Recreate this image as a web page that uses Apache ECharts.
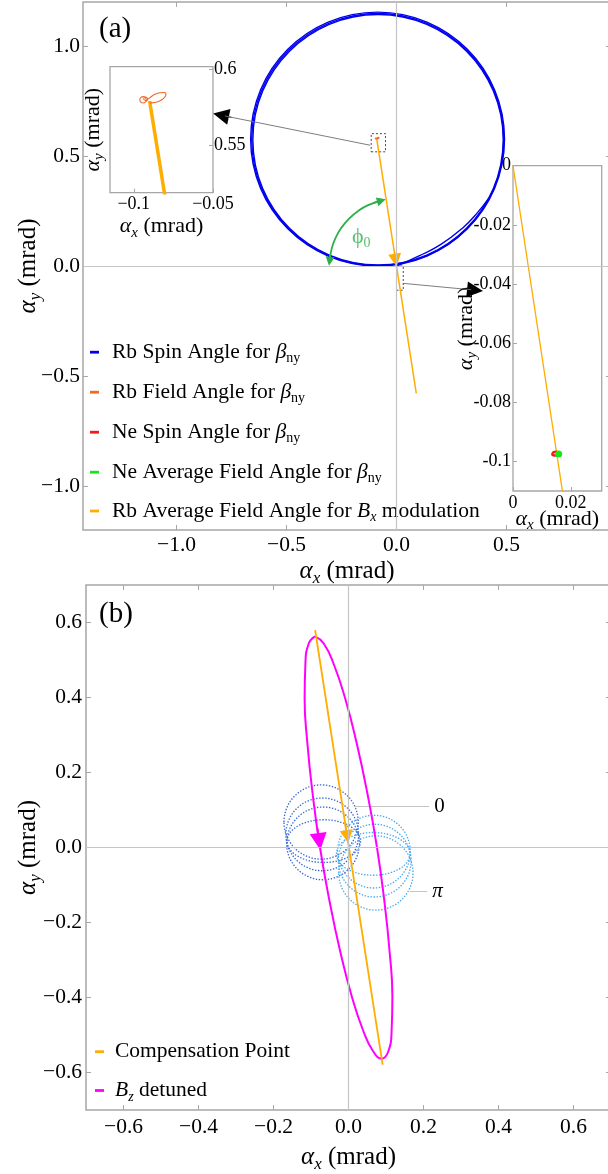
<!DOCTYPE html>
<html><head><meta charset="utf-8">
<script src="https://cdn.jsdelivr.net/npm/echarts@6/dist/echarts.min.js"></script>
<style>html,body{margin:0;padding:0;background:#fff}#c{width:608px;height:1174px}</style>
</head><body><div id="c"></div>
<script>
// ================= DATA (all values in mrad) =================
// tick labels
const aXTicks = [-1.0, -0.5, 0.0, 0.5];
const aYTicks = [-1.0, -0.5, 0.0, 0.5, 1.0];
const bTicks = [-0.6, -0.4, -0.2, 0.0, 0.2, 0.4, 0.6];
const insetAXTicks = [-0.1, -0.05];
const insetAYTicks = [0.55, 0.6];
const insetBXTicks = [0, 0.02];
const insetBYTicks = [-0.1, -0.08, -0.06, -0.04, -0.02, 0];
// axis ranges
const aXRange = [-1.425, 0.975];
const aYRange = [-1.2, 1.2];
const bRange = [-0.7, 0.7];
const insetAX = [-0.115, -0.05];
const insetAY = [0.519, 0.6015];
const insetBX = [0, 0.0307];
const insetBY = [-0.11, 0];

// panel (a)
const rbSpinLoops = [[-0.086, 0.577, 0.577, 0.577], [-0.085, 0.575, 0.573, 0.573], [-0.084, 0.574, 0.569, 0.569]]; // cx, cy, rx, ry
const rbSpinStart = [[0, 0], [0.1, 0.045], [0.2, 0.097], [0.3, 0.172], [0.37, 0.245], [0.42, 0.31]];
const rbFieldPath = [[-0.0899, 0.5778], [-0.0886, 0.5778], [-0.0848, 0.5785], [-0.0816, 0.5804], [-0.0797, 0.5831],
  [-0.0807, 0.5846], [-0.0835, 0.5844], [-0.0873, 0.5831], [-0.0899, 0.5811], [-0.0920, 0.5798],
  [-0.0926, 0.5813], [-0.0941, 0.5819], [-0.0956, 0.5813], [-0.0962, 0.5798], [-0.0956, 0.5783],
  [-0.0941, 0.5777], [-0.0926, 0.5783], [-0.0915, 0.5795], [-0.0913, 0.5805], [-0.0925, 0.5817],
  [-0.0937, 0.5805], [-0.0925, 0.5793], [-0.0913, 0.5800]];
const rbAvgLine = [[-0.090, 0.579], [0.090, -0.579]];
const rbAvgArrow = [[-0.0093, 0.06], [-0.004, 0.026]];
const neSpinPath = [[0.0136, -0.0972], [0.0147, -0.0967], [0.0158, -0.0969], [0.0157, -0.0978], [0.0145, -0.0980], [0.0136, -0.0975], [0.0136, -0.0972]];
const neAvgPoint = [[0.0158, -0.0975]];
const phiArc = [[-0.3043, 0.0213], [-0.2946, 0.0789], [-0.2764, 0.1289], [-0.2498, 0.1749], [-0.2157, 0.2157], [-0.1749, 0.2498], [-0.1289, 0.2764], [-0.0686, 0.2972]];
const phiArrowLow = [[-0.3004, 0.053], [-0.3043, 0.0213]];
const phiArrowHigh = [[-0.1043, 0.2866], [-0.0686, 0.2972]];
const phiLabelPos = [[-0.16, 0.13]];
const linkALine = [[-0.12, 0.549], [-0.78, 0.682]];
const linkAArrow = [[-0.75, 0.6755], [-0.7977, 0.6855]];
const linkBLine = [[0.031, -0.079], [0.34, -0.108]];
const linkBArrow = [[0.30, -0.104], [0.357, -0.110]];

// panel (b)
const compLine = [[-0.089, 0.580], [0.091, -0.579]];
const compArrow = [[-0.0088, 0.064], [-0.0034, 0.029]];
const bzDetuned = [[-0.089, 0.563], [-0.106, 0.544], [-0.115, 0.488], [-0.117, 0.398], [-0.110, 0.282], [-0.096, 0.146],
  [-0.076, 0], [-0.050, -0.146], [-0.021, -0.282], [0.009, -0.398], [0.039, -0.488], [0.066, -0.544], [0.089, -0.563],
  [0.106, -0.544], [0.115, -0.488], [0.117, -0.398], [0.110, -0.282], [0.096, -0.146], [0.076, 0], [0.050, 0.146],
  [0.021, 0.282], [-0.009, 0.398], [-0.039, 0.488], [-0.066, 0.544], [-0.089, 0.563]];
const bzArrow = [[-0.0825, 0.05], [-0.078, 0.016]];
const spin0Orbits = [[-0.073, 0.068, 0.099, 0.099], [-0.070, 0.035, 0.097, 0.097], [-0.068, 0.011, 0.097, 0.097], [-0.066, 0.017, 0.098, 0.057]];
const spinPiOrbits = [[0.073, -0.068, 0.099, 0.099], [0.070, -0.035, 0.097, 0.097], [0.068, -0.011, 0.097, 0.097], [0.066, -0.017, 0.098, 0.057]];
const leader0 = [[0.015, 0.109], [0.215, 0.109]];
const leaderPi = [[0.164, -0.117], [0.21, -0.117]];

// ================= STYLE =================
const SERIF = "'Liberation Serif','Times New Roman',serif";
const C = { blue: '#0000ee', field: '#f26a22', red: '#ee1c1c', green: '#19e619', amber: '#ffad00', magenta: '#ff00ff',
  arc: '#2eaf4a', dark: '#3766d6', light: '#44a8ee', zero: '#c4c4c4', frame: '#a6a6a6', link: '#6e6e6e' };

function rich(fs, sub) {
  const lh = Math.round(fs * 1.25);
  return {
    i: { fontFamily: SERIF, fontSize: fs, fontStyle: 'italic', lineHeight: lh, color: '#000' },
    si: { fontFamily: SERIF, fontSize: sub, fontStyle: 'italic', lineHeight: Math.round(sub * 0.85), verticalAlign: 'bottom', color: '#000' },
    su: { fontFamily: SERIF, fontSize: sub, lineHeight: Math.round(sub * 0.85), verticalAlign: 'bottom', color: '#000' }
  };
}
function nameStyle(fs, sub) {
  return { fontFamily: SERIF, fontSize: fs, color: '#000', lineHeight: Math.round(fs * 1.25), rich: rich(fs, sub) };
}
const fmt1 = v => (v < 0 ? '\u2212' : '') + Math.abs(v).toFixed(1);
const fmtA = v => (v < 0 ? '\u2212' : '') + String(Math.abs(v));
const fmtB = v => String(v);

function vAxis(o) {
  return Object.assign({ type: 'value', axisLine: { show: false, onZero: false }, splitLine: { show: false },
    axisTick: { show: false }, axisLabel: { show: false }, nameMoveOverlap: false }, o);
}
function ticks(vals, len) {
  return { show: true, inside: true, length: len || 5, customValues: vals, lineStyle: { color: C.frame, width: 1 } };
}
function labels(vals, fmt, fs, margin) {
  return { show: true, customValues: vals, formatter: fmt, margin: margin, fontFamily: SERIF, fontSize: fs, color: '#000' };
}
const gridStyle = { show: true, borderColor: C.frame, borderWidth: 1.5, backgroundColor: 'transparent', containLabel: false, outerBoundsMode: 'none' };

const legendText = {
  RbSpin: 'Rb Spin Angle for {i|\u03b2}{su|ny}',
  RbField: 'Rb Field Angle for {i|\u03b2}{su|ny}',
  NeSpin: 'Ne Spin Angle for {i|\u03b2}{su|ny}',
  NeAvg: 'Ne Average Field Angle for {i|\u03b2}{su|ny}',
  RbAvg: 'Rb Average Field Angle for {i|B}{si|x} modulation',
  Comp: 'Compensation Point',
  Bz: '{i|B}{si|z} detuned'
};
function legend(name, color, left, centerY, pad) {
  return { data: [{ name: name, icon: 'rect', itemStyle: { color: color, borderWidth: 0 } }],
    left: left, top: centerY - 13, orient: 'vertical', padding: 0, itemWidth: 9, itemHeight: 2.8,
    selectedMode: false, formatter: n => legendText[n],
    textStyle: { fontFamily: SERIF, fontSize: 21.5, color: '#000', lineHeight: 26, padding: [0, 0, 0, pad], rich: rich(21.5, 14) } };
}

function orbitRender(color, width, dash) {
  return function (params, api) {
    const c = api.coord([api.value(0), api.value(1)]);
    const s = api.size([api.value(2), api.value(3)]);
    return { type: 'ellipse', shape: { cx: c[0], cy: c[1], rx: s[0], ry: s[1] },
      style: { fill: 'none', stroke: color, lineWidth: width, lineDash: dash } };
  };
}
function lineS(name, data, xi, yi, color, width, extra) {
  return Object.assign({ type: 'line', name: name, data: data, xAxisIndex: xi, yAxisIndex: yi, showSymbol: false, symbol: 'none',
    lineStyle: { color: color, width: width }, itemStyle: { color: color }, silent: true, animation: false }, extra || {});
}
function arrowS(coords, xi, yi, color, size, width) {
  return { type: 'lines', coordinateSystem: 'cartesian2d', xAxisIndex: xi, yAxisIndex: yi, silent: true,
    symbol: ['none', 'triangle'], symbolSize: size, lineStyle: { color: color, width: width || 1, opacity: 1, curveness: 0 },
    data: [{ coords: coords }] };
}
function boxData(xr, yr) {
  return [[xr[0], yr[0]], [xr[1], yr[0]], [xr[1], yr[1]], [xr[0], yr[1]], [xr[0], yr[0]]];
}
function zeroLines(xi, yi) {
  return { type: 'line', data: [[0, 0]], xAxisIndex: xi, yAxisIndex: yi, showSymbol: false, symbol: 'none', silent: true,
    lineStyle: { width: 0 },
    markLine: { silent: true, symbol: ['none', 'none'], label: { show: false }, animation: false,
      lineStyle: { type: 'solid', color: C.zero, width: 1.2 }, data: [{ xAxis: 0 }, { yAxis: 0 }] } };
}

const option = {
  animation: false,
  backgroundColor: '#fff',
  title: [
    { text: '(a)', left: 99, top: 15, padding: 0, textStyle: { fontFamily: SERIF, fontSize: 29, fontWeight: 'normal', color: '#000' } },
    { text: '(b)', left: 99, top: 600, padding: 0, textStyle: { fontFamily: SERIF, fontSize: 29, fontWeight: 'normal', color: '#000' } }
  ],
  grid: [
    Object.assign({ left: 83, top: 2, width: 528, height: 528 }, gridStyle),
    Object.assign({ left: 110, top: 66.7, width: 103, height: 126 }, gridStyle, { borderWidth: 1.3 }),
    Object.assign({ left: 513, top: 165.7, width: 88.7, height: 325.3 }, gridStyle, { borderWidth: 1.3 }),
    Object.assign({ left: 86, top: 585, width: 525, height: 525 }, gridStyle)
  ],
  xAxis: [
    vAxis({ gridIndex: 0, position: 'bottom', min: aXRange[0], max: aXRange[1], axisTick: ticks(aXTicks),
      axisLabel: labels(aXTicks, fmt1, 21.5, 4), name: '{i|\u03b1}{si|x} (mrad)', nameLocation: 'middle', nameGap: 26, nameTextStyle: nameStyle(25, 17) }),
    vAxis({ gridIndex: 0, position: 'top', min: aXRange[0], max: aXRange[1], axisTick: ticks(aXTicks) }),
    vAxis({ gridIndex: 1, position: 'bottom', min: insetAX[0], max: insetAX[1], axisTick: ticks(insetAXTicks, 4),
      axisLabel: labels(insetAXTicks, fmtA, 18, 3), name: '{i|\u03b1}{si|x} (mrad)', nameLocation: 'middle', nameGap: 20, nameTextStyle: nameStyle(22, 15) }),
    vAxis({ gridIndex: 2, position: 'bottom', min: insetBX[0], max: insetBX[1], axisTick: ticks(insetBXTicks, 4),
      axisLabel: labels(insetBXTicks, fmtB, 18, 3), name: '{i|\u03b1}{si|x} (mrad)', nameLocation: 'middle', nameGap: 14, nameTextStyle: nameStyle(22, 15) }),
    vAxis({ gridIndex: 3, position: 'bottom', min: bRange[0], max: bRange[1], axisTick: ticks(bTicks),
      axisLabel: labels(bTicks, fmt1, 21.5, 6), name: '{i|\u03b1}{si|x} (mrad)', nameLocation: 'middle', nameGap: 32, nameTextStyle: nameStyle(25, 17) }),
    vAxis({ gridIndex: 3, position: 'top', min: bRange[0], max: bRange[1], axisTick: ticks(bTicks) })
  ],
  yAxis: [
    vAxis({ gridIndex: 0, position: 'left', min: aYRange[0], max: aYRange[1], axisTick: ticks(aYTicks),
      axisLabel: labels(aYTicks, fmt1, 21.5, 3), name: '{i|\u03b1}{si|y} (mrad)', nameLocation: 'middle', nameGap: 39, nameTextStyle: nameStyle(25, 17) }),
    vAxis({ gridIndex: 0, position: 'right', min: aYRange[0], max: aYRange[1], axisTick: ticks(aYTicks) }),
    vAxis({ gridIndex: 1, position: 'right', min: insetAY[0], max: insetAY[1], axisTick: ticks(insetAYTicks, 4),
      axisLabel: labels(insetAYTicks, fmtA, 18, 1) }),
    vAxis({ gridIndex: 1, position: 'left', min: insetAY[0], max: insetAY[1],
      name: '{i|\u03b1}{si|y} (mrad)', nameLocation: 'middle', nameGap: 3, nameTextStyle: nameStyle(22, 15) }),
    vAxis({ gridIndex: 2, position: 'left', min: insetBY[0], max: insetBY[1], axisTick: ticks(insetBYTicks, 4),
      axisLabel: labels(insetBYTicks, fmtB, 18, 2), name: '{i|\u03b1}{si|y} (mrad)', nameLocation: 'middle', nameGap: 33, nameTextStyle: nameStyle(22, 15) }),
    vAxis({ gridIndex: 3, position: 'left', min: bRange[0], max: bRange[1], axisTick: ticks(bTicks),
      axisLabel: labels(bTicks, fmt1, 21.5, 4), name: '{i|\u03b1}{si|y} (mrad)', nameLocation: 'middle', nameGap: 42, nameTextStyle: nameStyle(25, 17) }),
    vAxis({ gridIndex: 3, position: 'right', min: bRange[0], max: bRange[1], axisTick: ticks(bTicks) })
  ],
  legend: [
    legend('RbSpin', C.blue, 90, 351.7, 8),
    legend('RbField', C.field, 90, 391.7, 8),
    legend('NeSpin', C.red, 90, 431.7, 8),
    legend('NeAvg', C.green, 90, 471.7, 8),
    legend('RbAvg', C.amber, 90, 510.5, 8),
    legend('Comp', C.amber, 95, 1051.7, 6),
    legend('Bz', C.magenta, 95, 1090, 6)
  ],
  series: [
    // ---------- panel (a) main ----------
    zeroLines(0, 0),
    { type: 'custom', name: 'RbSpin', coordinateSystem: 'cartesian2d', xAxisIndex: 0, yAxisIndex: 0, silent: true,
      encode: { x: 0, y: 1 }, itemStyle: { color: C.blue }, renderItem: orbitRender(C.blue, 1.4, null), data: rbSpinLoops },
    lineS('RbSpin', rbSpinStart, 0, 0, C.blue, 1.4, { smooth: true }),
    lineS('dashA', boxData(insetAX, insetAY), 0, 0, '#333', 0.9, { lineStyle: { color: '#333', width: 0.9, type: [2, 2] } }),
    lineS('dashB', boxData(insetBX, insetBY), 0, 0, '#333', 0.9, { lineStyle: { color: '#333', width: 0.9, type: [2, 2] } }),
    lineS('linkA', linkALine, 0, 0, C.link, 0.9),
    lineS('linkB', linkBLine, 0, 0, C.link, 0.9),
    arrowS(linkAArrow, 0, 0, '#000', [7, 16], 0.9),
    arrowS(linkBArrow, 0, 0, '#000', [7, 16], 0.9),
    lineS('phiArc', phiArc, 0, 0, C.arc, 1.8, { smooth: true }),
    arrowS(phiArrowLow, 0, 0, C.arc, [7, 9], 1.8),
    arrowS(phiArrowHigh, 0, 0, C.arc, [7, 9], 1.8),
    { type: 'scatter', name: 'phiLabel', xAxisIndex: 0, yAxisIndex: 0, data: phiLabelPos, symbolSize: 1, silent: true,
      itemStyle: { color: 'transparent' },
      label: { show: true, position: 'inside', formatter: '{p|\u03d5}{s|0}',
        rich: { p: { fontFamily: SERIF, fontSize: 22, color: C.arc, lineHeight: 26 },
                s: { fontFamily: SERIF, fontSize: 14, color: C.arc, lineHeight: 12, verticalAlign: 'bottom' } } } },
    lineS('RbAvg', rbAvgLine, 0, 0, C.amber, 1.5),
    arrowS(rbAvgArrow, 0, 0, C.amber, [10, 13], 1.5),
    lineS('RbField', rbFieldPath, 0, 0, C.field, 1.2, { smooth: 0.4 }),
    // ---------- inset A ----------
    lineS('RbAvg', rbAvgLine, 2, 2, C.amber, 3.5),
    lineS('RbField', rbFieldPath, 2, 2, C.field, 1.1, { smooth: 0.4 }),
    // ---------- inset B ----------
    lineS('RbAvg', rbAvgLine, 3, 4, C.amber, 1.3),
    lineS('NeSpin', neSpinPath, 3, 4, C.red, 2.5, { smooth: 0.5, z: 3 }),
    { type: 'scatter', name: 'NeAvg', xAxisIndex: 3, yAxisIndex: 4, data: neAvgPoint, symbolSize: 7, silent: true, z: 6,
      itemStyle: { color: C.green, opacity: 1 } },
    // ---------- panel (b) ----------
    zeroLines(4, 5),
    { type: 'custom', name: 'orb0', coordinateSystem: 'cartesian2d', xAxisIndex: 4, yAxisIndex: 5, silent: true,
      encode: { x: 0, y: 1 }, renderItem: orbitRender(C.dark, 1.3, [1.4, 1.6]), data: spin0Orbits },
    { type: 'custom', name: 'orbPi', coordinateSystem: 'cartesian2d', xAxisIndex: 4, yAxisIndex: 5, silent: true,
      encode: { x: 0, y: 1 }, renderItem: orbitRender(C.light, 1.3, [1.4, 1.6]), data: spinPiOrbits },
    { type: 'lines', coordinateSystem: 'cartesian2d', xAxisIndex: 4, yAxisIndex: 5, silent: true,
      lineStyle: { color: C.zero, width: 1.1, opacity: 1 },
      label: { show: true, position: 'end', distance: 5, fontFamily: SERIF, fontSize: 21, color: '#000' },
      data: [{ coords: leader0, label: { formatter: '0' } },
             { coords: leaderPi, label: { formatter: '\u03c0', fontStyle: 'italic' } }] },
    lineS('Bz', bzDetuned, 4, 5, C.magenta, 2, { smooth: true }),
    arrowS(bzArrow, 4, 5, C.magenta, [10, 17], 2),
    lineS('Comp', compLine, 4, 5, C.amber, 1.8),
    arrowS(compArrow, 4, 5, C.amber, [9, 13], 1.8)
  ]
};

const chart = echarts.init(document.getElementById('c'), null, { renderer: 'canvas' });
chart.setOption(option);
</script>
</body></html>
